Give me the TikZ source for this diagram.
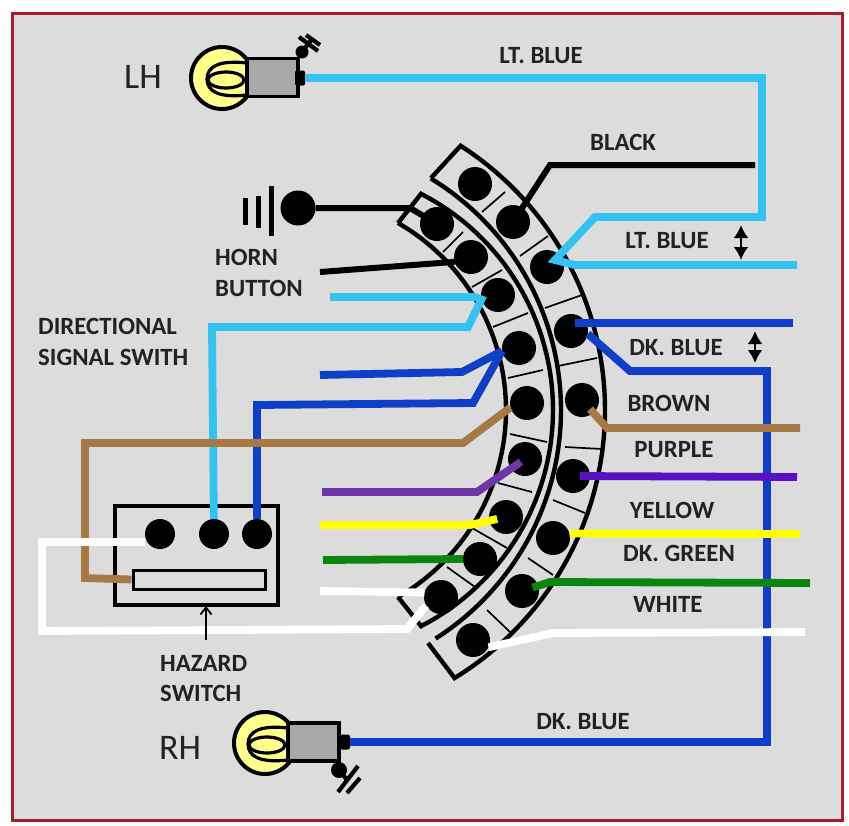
\documentclass[tikz,border=0pt]{standalone}
\usepackage{fontspec}
\setmainfont{Carlito}
\usetikzlibrary{arrows.meta}
\definecolor{panel}{HTML}{DCDCDC}
\definecolor{frame}{HTML}{A81C2C}
\definecolor{ltblue}{HTML}{33C3F2}
\definecolor{dkblue}{HTML}{0F3FC8}
\definecolor{brownw}{HTML}{A87846}
\definecolor{purpl}{HTML}{7035A8}
\definecolor{purpr}{HTML}{5A10C4}
\definecolor{greenw}{HTML}{0A860F}
\definecolor{yellw}{HTML}{FFFF00}
\definecolor{bulbc}{HTML}{FFFF8C}
\definecolor{sockc}{HTML}{A8A8A8}
\definecolor{inkc}{HTML}{222222}
\tikzset{
  pin/.style={circle,fill=black,inner sep=0pt,minimum size=#1},
  pin/.default=34pt,
  shell/.style={draw=black,line width=4.4pt},
  sep/.style={draw=black,line width=1.7pt},
  wire/.style={line width=#1,line cap=butt,line join=miter},
  wire/.default=7.8pt,
  lbl/.style={font=\fontsize{24.8}{26}\selectfont\bfseries,text=inkc,inner sep=0pt},
  big/.style={font=\fontsize{36}{38}\selectfont,text=inkc,inner sep=0pt},
  bulb/.style={circle,draw=black,line width=4pt,fill=bulbc,inner sep=0pt,minimum size=62pt},
  sock/.style={rectangle,draw=black,line width=3.4pt,fill=sockc,inner sep=0pt,minimum width=51pt,minimum height=38pt},
  nub/.style={rectangle,rounded corners=2pt,fill=black,inner sep=0pt,minimum width=10pt,minimum height=15pt},
  fil/.style={draw=black,line width=3.2pt},
  hatch/.style={draw=black,line width=4.2pt},
  dbl/.style={line width=2.6pt,{Latex[length=13pt,width=15pt]}-{Latex[length=13pt,width=15pt]}}
}
\begin{document}
\begin{tikzpicture}[x=1pt,y=-1pt]
\useasboundingbox (0,0) rectangle (849,825);
\fill[white] (0,0) rectangle (849,825);
\draw[draw=frame,fill=panel,line width=3pt] (12.5,13.5) rectangle (842,820);

% connector shells
\draw[shell] plot[domain=-58.7:57.5,samples=90] ({290+271*cos(\x)},{410+271*sin(\x)});
\draw[shell,line join=miter] (431,178) -- plot[domain=-57.3:58.6,samples=90] ({291+314*cos(\x)},{410+314*sin(\x)}) -- (428,643);
\draw[shell] plot[domain=-60:60,samples=90] ({290+216*cos(\x)},{410+216*sin(\x)});
\draw[shell,line join=miter] (398,223) -- plot[domain=-62.8:62.8,samples=90] ({310+243*cos(\x)},{410+243*sin(\x)}) -- (398,597);

% separators
\foreach \a/\b/\c/\d in {482/212/505/192,520/256/548/236,545/308/582/295,558/366/597/358,565/447/602/449,553/500/585/513,528/558/553/575,487/610/510/632,
443/252/463/232,472/287/502/270,493/327/528/313,508/378/543/370,510/434/547/442,498/483/532/492,472/528/507/548,447/567/475/587}
  \draw[sep] (\a,\b) -- (\c,\d);

% pins
\node[pin] (o1) at (475,184) {};
\node[pin] (o2) at (513,222) {};
\node[pin] (o3) at (547,267) {};
\node[pin] (o4) at (571,331) {};
\node[pin] (o5) at (582,400) {};
\node[pin] (o6) at (573,476) {};
\node[pin] (o7) at (553,538) {};
\node[pin] (o8) at (522,591) {};
\node[pin] (o9) at (473,640) {};
\node[pin] (i1) at (437,224) {};
\node[pin] (i2) at (471,257) {};
\node[pin] (i3) at (498,295) {};
\node[pin] (i4) at (519,348) {};
\node[pin] (i5) at (527,403) {};
\node[pin] (i6) at (525,459) {};
\node[pin] (i7) at (506,517) {};
\node[pin] (i8) at (480,559) {};
\node[pin] (i9) at (441,597) {};

% hazard switch box
\node[rectangle,draw=black,line width=4.4pt,minimum width=163pt,minimum height=99pt,inner sep=0pt] (sw) at (196.5,555.5) {};
\node[rectangle,draw=black,line width=3pt,minimum width=132pt,minimum height=19pt,inner sep=0pt] (hz) at (199,579.5) {};
\node[pin=30pt] (sw1) at (160,534) {};
\node[pin=30pt] (sw2) at (214,534) {};
\node[pin=30pt] (sw3) at (257,534) {};

% lamps
\node[bulb] (lhb) at (222,78) {};
\draw[fil] (247,63) .. controls (220,60) and (207,66) .. (207,79) .. controls (207,92) and (220,98) .. (247,95);
\draw[fil] (226,80) ellipse [x radius=18,y radius=8];
\node[sock] (lhs) at (272.5,77.5) {};
\node[nub] (lhn) at (300,78) {};

\node[bulb] (rhb) at (265,743) {};
\draw[fil] (288,728) .. controls (261,725) and (248,731) .. (248,744) .. controls (248,757) and (261,763) .. (288,760);
\draw[fil] (267,745) ellipse [x radius=18,y radius=8];
\node[sock] (rhs) at (313.5,742) {};
\node[nub] (rhn) at (345,742) {};

% grounds
\node[pin=13pt] (gt) at (302,52) {};
\draw[hatch] (gt.center) -- (312,39);
\draw[hatch] (299,37) -- (318,51);
\draw[hatch] (306,35) -- (320,45);
\node[pin=16pt] (gb) at (339,770) {};
\draw[hatch] (gb.center) -- (348,781);
\draw[hatch] (338,792) -- (358,766);
\draw[hatch] (347,793) -- (360,778);

% horn contact
\node[pin=35pt] (hc) at (298,208) {};
\draw[line width=5pt] (245,198) -- (245,225);
\draw[line width=5pt] (258,196) -- (258,228);
\draw[line width=5pt] (271,186) -- (271,236);

% wires: blue first, other colours cross over them
\draw[wire,ltblue] (lhn) -- (762,78) -- (762,217) -- (595,217) -- (555,260) -- (575,265) -- (797,265);
\draw[wire,dkblue] (575,323) -- (793,323);
\draw[wire,dkblue] (o4.350) -- (630,371) -- (767,371) -- (767,742) -- (rhn);
\draw[wire,ltblue] (330,297) -- (475,297) -- (i3.195) -- (468,327) -- (212,327) -- (sw2);
\draw[wire,dkblue] (320,375) -- (462,372) -- (i4.190);
\draw[wire,dkblue] (i4.190) -- (473,403) -- (257,405) -- (sw3);

\draw[wire=6pt,black] (hc) -- (395,208) -- (410,208) -- (i1.center);
\draw[wire=6pt,black] (320,272) -- (453,262) -- (i2.center);
\draw[wire=6pt,black] (o2.center) -- (550,165) -- (755,165);

\draw[wire,brownw] (hz.west) -- (85,578) -- (85,443) -- (463,443) -- (i5.195);
\draw[wire,purpl,shorten <=5pt] (i6.center) -- (477,492) -- (322,492);
\draw[wire,yellw,shorten <=9pt] (i7.center) -- (470,525) -- (320,525);
\draw[wire,greenw] (i8.west) -- (323,560);
\draw[wire,white] (i9.165) -- (320,591);
\draw[wire,white] ([yshift=-8pt]sw1.west) -- (42,542) -- (42,631) -- (407,629) -- (i9.210);

\draw[wire,brownw,shorten <=12pt] (o5.center) -- (607,428) -- (800,428);
\draw[wire,purpr,shorten <=7pt] (o6.center) -- (797,477);
\draw[wire,yellw] (o7.15) -- (800,534);
\draw[wire,greenw,shorten <=11pt] (o8.center) -- (550,582) -- (810,583);
\draw[wire,white] (o9.335) -- (553,633) -- (805,632);

% arrows
\coordinate (hzb) at (206,640);
\coordinate (hzt) at (206,606);
\draw[line width=1.8pt,-{Straight Barb[length=7pt,width=11pt]}] (hzb) -- (hzt);
\coordinate (da1) at (741,225);
\coordinate (da2) at (741,260);
\draw[dbl] (da1) -- (da2);
\coordinate (db1) at (755,331);
\coordinate (db2) at (755,363);
\draw[dbl] (db1) -- (db2);

% labels
\node[big] (tlh) at (143,77) {LH};
\node[big] (trh) at (180,748) {RH};
\node[lbl] (t1) at (541,56) {LT. BLUE};
\node[lbl] (t2) at (623,142) {BLACK};
\node[lbl] (t3) at (667,241) {LT. BLUE};
\node[lbl] (t4) at (676,348) {DK. BLUE};
\node[lbl] (t5) at (669,403) {BROWN};
\node[lbl] (t6) at (674,450) {PURPLE};
\node[lbl] (t7) at (672,510) {YELLOW};
\node[lbl] (t8) at (679,553) {DK. GREEN};
\node[lbl] (t9) at (668,604) {WHITE};
\node[lbl] (t10) at (583,722) {DK. BLUE};
\node[lbl,anchor=west] (t11) at (215,257) {HORN};
\node[lbl,anchor=west] (t12) at (215,288) {BUTTON};
\node[lbl,anchor=west] (t13) at (38,326) {DIRECTIONAL};
\node[lbl,anchor=west] (t14) at (38,357) {SIGNAL SWITH};
\node[lbl,anchor=west] (t15) at (160,663) {HAZARD};
\node[lbl,anchor=west] (t16) at (160,693) {SWITCH};
\end{tikzpicture}
\end{document}
